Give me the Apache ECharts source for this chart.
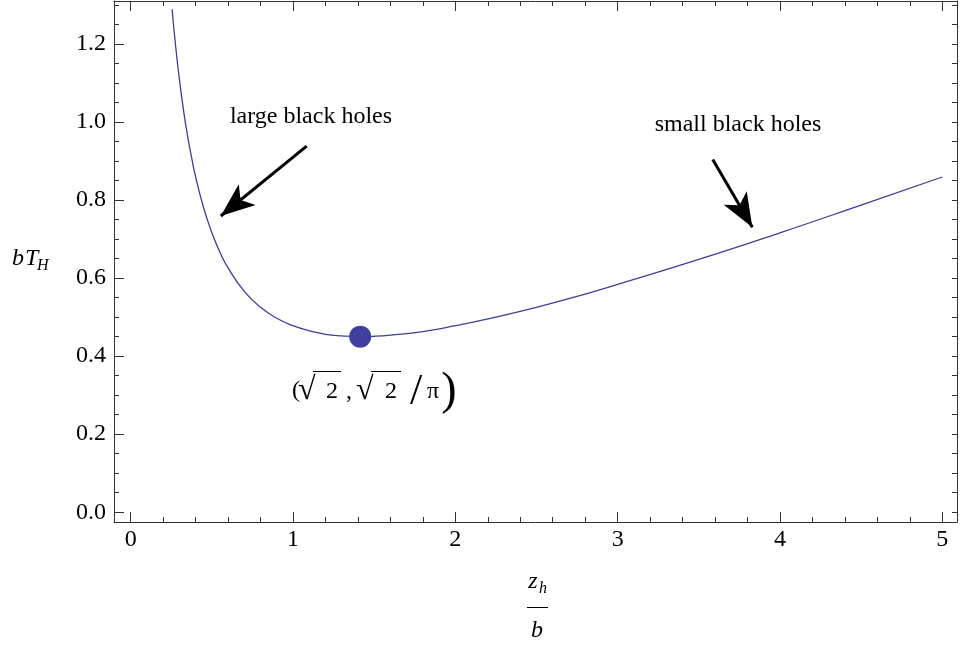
<!DOCTYPE html>
<html>
<head>
<meta charset="utf-8">
<script src="https://cdn.jsdelivr.net/npm/echarts@6/dist/echarts.min.js"></script>
<style>
html, body { margin: 0; padding: 0; background: #fff; }
#main { width: 961px; height: 649px; }
</style>
</head>
<body>
<div id="main"></div>
<script>
// Horizon z_h / b and temperature b T_H
const zValues = [0.255, 0.275, 0.3, 0.325, 0.35, 0.375, 0.4, 0.45, 0.5, 0.55, 0.6, 0.7, 0.8, 0.9, 1.0,
    1.1, 1.2, 1.3, 1.414, 1.5, 1.6, 1.8, 2.0, 2.25, 2.5, 2.75, 3.0, 3.5, 4.0, 4.5, 5.0];
const tValues = [1.289, 1.201, 1.109, 1.031, 0.965, 0.909, 0.859, 0.779, 0.716, 0.666, 0.626, 0.566, 0.525, 0.497, 0.478,
    0.465, 0.456, 0.452, 0.450, 0.451, 0.454, 0.463, 0.478, 0.500, 0.525, 0.553, 0.584, 0.648, 0.716, 0.787, 0.859];
const minPoint = [1.414, 0.450];

// arrows: [tail, head]
const arrowLines = [
    [[1.084, 0.938], [0.555, 0.759]],
    [[3.586, 0.904], [3.830, 0.730]]
];

const xMajorTicks = [0, 1, 2, 3, 4, 5];
const xMinorTicks = [0.2, 0.4, 0.6, 0.8, 1.2, 1.4, 1.6, 1.8, 2.2, 2.4, 2.6, 2.8, 3.2, 3.4, 3.6, 3.8,
    4.2, 4.4, 4.6, 4.8];
const yMajorTicks = [0, 0.2, 0.4, 0.6, 0.8, 1.0, 1.2];
const yMinorTicks = [0.05, 0.1, 0.15, 0.25, 0.3, 0.35, 0.45, 0.5, 0.55, 0.65, 0.7, 0.75, 0.85, 0.9, 0.95,
    1.05, 1.1, 1.15, 1.25, 1.3];
const yAllTicks = yMajorTicks.concat(yMinorTicks);

const serif = '"Liberation Serif", "Times New Roman", serif';
const frameColor = '#333';
const curveColor = '#3d3d9a';

function tickAxis(pos, values, len, showLine) {
    const horiz = pos === 'bottom' || pos === 'top';
    return {
        type: 'value',
        position: pos,
        min: horiz ? -0.103 : -0.025,
        max: horiz ? 5.091 : 1.310,
        axisLine: { show: showLine, onZero: false, lineStyle: { color: frameColor, width: 1 } },
        axisTick: { show: true, inside: true, length: len, customValues: values, lineStyle: { color: frameColor, width: 1 } },
        axisLabel: { show: false },
        splitLine: { show: false }
    };
}

function txt(x, y, text, size, opts) {
    opts = opts || {};
    return {
        type: 'text', x: x, y: y, silent: true,
        style: {
            text: text,
            font: (opts.italic ? 'italic ' : '') + size + 'px ' + serif,
            fill: '#000',
            align: opts.align || 'center',
            verticalAlign: 'middle'
        }
    };
}

function bar(x1, x2, y) {
    return { type: 'line', silent: true, shape: { x1: x1, y1: y, x2: x2, y2: y }, style: { stroke: '#000', lineWidth: 1 } };
}

const chart = echarts.init(document.getElementById('main'));

const xMain = tickAxis('bottom', xMajorTicks, 10, true);
xMain.axisLabel = {
    show: true, customValues: xMajorTicks, margin: 6,
    color: '#000', fontFamily: serif, fontSize: 24
};
const yMain = tickAxis('left', yMajorTicks, 10, true);
yMain.axisLabel = {
    show: true, customValues: yMajorTicks, margin: 8,
    color: '#000', fontFamily: serif, fontSize: 24,
    formatter: function (v) { return v.toFixed(1); }
};

const option = {
    animation: false,
    backgroundColor: '#fff',
    grid: { left: 114, right: 4, top: 1, bottom: 127 },
    xAxis: [
        xMain,
        tickAxis('bottom', xMinorTicks, 5, false),
        tickAxis('top', xMajorTicks, 10, true),
        tickAxis('top', xMinorTicks, 5, false)
    ],
    yAxis: [
        yMain,
        tickAxis('left', yMinorTicks, 5, false),
        tickAxis('right', yAllTicks, 5, true)
    ],
    series: [
        {
            name: 'bT_H',
            type: 'line',
            xAxisIndex: 0,
            yAxisIndex: 0,
            smooth: true,
            showSymbol: false,
            lineStyle: { color: curveColor, width: 1.3 },
            data: zValues.map(function (z, i) { return [z, tValues[i]]; }),
            markLine: {
                silent: true,
                symbol: ['none', 'arrow'],
                symbolSize: [20, 34],
                label: { show: false },
                lineStyle: { color: '#000', width: 3, type: 'solid' },
                itemStyle: { color: '#000' },
                data: arrowLines.map(function (a) {
                    return [{ coord: a[0] }, { coord: a[1] }];
                })
            }
        },
        {
            name: 'minimum',
            type: 'scatter',
            xAxisIndex: 0,
            yAxisIndex: 0,
            symbolSize: 22,
            itemStyle: { color: '#3f3f9f', opacity: 1 },
            data: [minPoint]
        }
    ],
    graphic: [
        txt(311, 117, 'large black holes', 24),
        txt(738, 125, 'small black holes', 24),
        // (√2, √2/π)
        txt(292, 391, '(', 24, { align: 'left' }),
        txt(298, 391, '√', 32, { align: 'left' }),
        bar(313, 341, 371.5),
        txt(326, 392, '2', 24, { align: 'left' }),
        txt(346, 392, ',', 24, { align: 'left' }),
        txt(356, 391, '√', 32, { align: 'left' }),
        bar(371, 401, 371.5),
        txt(385, 392, '2', 24, { align: 'left' }),
        txt(416, 392, '/', 44),
        txt(427, 392, 'π', 24, { align: 'left' }),
        txt(449, 392, ')', 46),
        // axis titles
        txt(12, 259, 'b', 24, { italic: true, align: 'left' }),
        txt(25, 259, 'T', 24, { italic: true, align: 'left' }),
        txt(37, 266, 'H', 16, { italic: true, align: 'left' }),
        txt(533, 582, 'z', 24, { italic: true }),
        txt(539, 589, 'h', 16, { italic: true, align: 'left' }),
        bar(527, 548, 607.5),
        txt(537, 631, 'b', 24, { italic: true })
    ]
};

chart.setOption(option);
window.addEventListener('resize', function () {
    chart.resize();
});
</script>
</body>
</html>
